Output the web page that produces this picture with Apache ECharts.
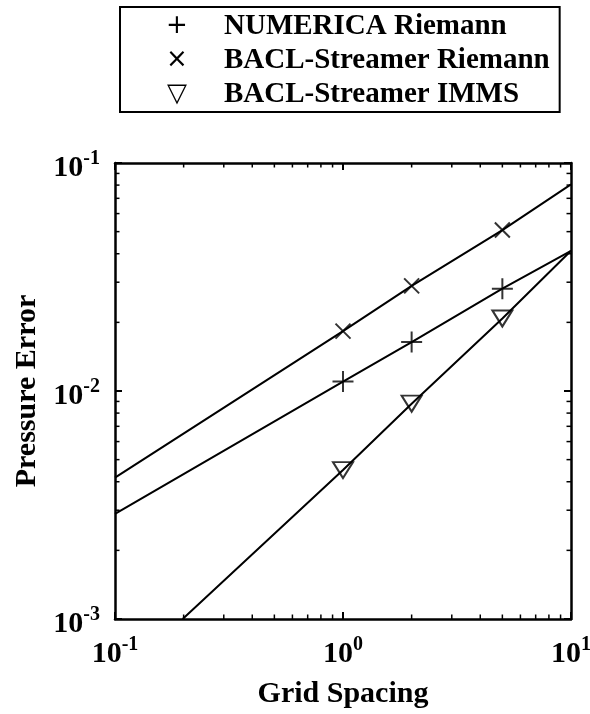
<!DOCTYPE html>
<html style="height: 100%">
<head>
	<meta charset="utf-8">
</head>
<body style="height: 100%; margin: 0; background: #fff">
	<div id="container" style="width: 590px; height: 714px;"></div>
	<script type="text/javascript" src="https://cdn.jsdelivr.net/npm/echarts@6.0.0/dist/echarts.min.js"></script>
	<script type="text/javascript">
		// measured points
		let gridSpacing = [1, 2, 5];
		let numericaRiemann = [0.0110, 0.0164, 0.0281];
		let baclRiemann = [0.0183, 0.0289, 0.0508];
		let baclImms = [0.00450, 0.00880, 0.0208];

		// fit lines, ends read where they leave the box
		let numericaFitX = [0.1, 1, 2, 5, 10];
		let numericaFitY = [0.00289, 0.0110, 0.0164, 0.0281, 0.0412];
		let baclRiemannFitX = [0.1, 1, 2, 5, 10];
		let baclRiemannFitY = [0.00417, 0.0183, 0.0289, 0.0508, 0.0806];
		let baclImmsFitX = [0.198, 1, 2, 5, 10];
		let baclImmsFitY = [0.001, 0.0045, 0.0088, 0.0208, 0.0412];

		let legendNames = ['NUMERICA Riemann', 'BACL-Streamer Riemann', 'BACL-Streamer IMMS'];
		let legendGlyphs = ['+', '\u00d7', '\u25bd'];

		let xMin = 0.1, xMax = 10, yMin = 0.001, yMax = 0.1;
		let xMinorTicks = [0.2, 0.3, 0.4, 0.5, 0.6, 0.7, 0.8, 0.9, 2, 3, 4, 5, 6, 7, 8, 9];
		let yMinorTicks = [0.002, 0.003, 0.004, 0.005, 0.006, 0.007, 0.008, 0.009,
			0.02, 0.03, 0.04, 0.05, 0.06, 0.07, 0.08, 0.09];

		let serif = 'Liberation Serif';
		let dom = document.getElementById("container");
		let myChart = echarts.init(dom, null, { renderer: 'canvas' });

		function zip(xs, ys) {
			let out = [];
			for (let i = 0; i < xs.length; i++) out.push([xs[i], ys[i]]);
			return out;
		}

		function powerLabel(value) {
			let exp = Math.round(Math.log10(value));
			return '{b|10}{s|' + exp + '}';
		}

		let labelRich = {
			b: { fontFamily: serif, fontWeight: 'bold', fontSize: 30, lineHeight: 40, verticalAlign: 'bottom', color: '#000' },
			s: { fontFamily: serif, fontWeight: 'bold', fontSize: 20, lineHeight: 20, verticalAlign: 'top', padding: [6, 0, 0, 0], color: '#000' }
		};

		let axisLine = { show: true, lineStyle: { color: '#000', width: 2.5 } };
		let majorTick = { show: true, inside: true, length: 7, lineStyle: { color: '#000', width: 2 } };

		// log axes only give decade ticks, so draw the 2..9 ones here
		function minorTicks(isX) {
			return function (params, api) {
				let v = api.value(isX ? 0 : 1);
				let a = isX ? api.coord([v, yMin]) : api.coord([xMin, v]);
				let b = isX ? api.coord([v, yMax]) : api.coord([xMax, v]);
				let len = 4.5;
				let st = { stroke: '#000', lineWidth: 1.5 };
				if (isX) {
					return { type: 'group', children: [
						{ type: 'line', shape: { x1: a[0], y1: a[1], x2: a[0], y2: a[1] - len }, style: st },
						{ type: 'line', shape: { x1: b[0], y1: b[1], x2: b[0], y2: b[1] + len }, style: st }
					] };
				}
				return { type: 'group', children: [
					{ type: 'line', shape: { x1: a[0], y1: a[1], x2: a[0] + len, y2: a[1] }, style: st },
					{ type: 'line', shape: { x1: b[0], y1: b[1], x2: b[0] - len, y2: b[1] }, style: st }
				] };
			};
		}

		let fitLine = { color: '#000', width: 2 };
		let markStroke = { color: 'rgba(0,0,0,0)', borderColor: '#000', borderWidth: 2 };

		let option = {
			animation: false,
			backgroundColor: '#fff',
			grid: { left: 115, top: 163, width: 456, height: 456, containLabel: false, outerBoundsMode: 'none' },
			legend: {
				data: legendNames,
				orient: 'vertical',
				left: 120,
				top: 7,
				icon: 'none',
				itemWidth: 1,
				itemHeight: 1,
				itemGap: 5,
				padding: [5, 10, 3, 4],
				borderColor: '#000',
				borderWidth: 2,
				selectedMode: false,
				formatter: function (name) {
					return '{m|' + legendGlyphs[legendNames.indexOf(name)] + '}{t|' + name + '}';
				},
				textStyle: {
					rich: {
						m: { fontFamily: 'DejaVu Sans', fontSize: 26, width: 94, align: 'center', lineHeight: 34, color: '#000' },
						t: { fontFamily: serif, fontWeight: 'bold', fontSize: 29, lineHeight: 34, color: '#000' }
					}
				}
			},
			xAxis: [
				{
					type: 'log', logBase: 10, min: xMin, max: xMax,
					name: 'Grid Spacing', nameLocation: 'middle', nameGap: 60,
					nameTextStyle: { fontFamily: serif, fontWeight: 'bold', fontSize: 30, color: '#000' },
					axisLine: axisLine, axisTick: majorTick,
					axisLabel: { margin: 10, formatter: powerLabel, rich: labelRich },
					splitLine: { show: false }
				},
				{
					type: 'log', logBase: 10, min: xMin, max: xMax, position: 'top',
					axisLine: axisLine, axisTick: majorTick,
					axisLabel: { show: false }, splitLine: { show: false }
				}
			],
			yAxis: [
				{
					type: 'log', logBase: 10, min: yMin, max: yMax,
					name: 'Pressure Error', nameLocation: 'middle', nameGap: 70,
					nameTextStyle: { fontFamily: serif, fontWeight: 'bold', fontSize: 30, color: '#000' },
					axisLine: axisLine, axisTick: majorTick,
					axisLabel: { margin: 15, formatter: powerLabel, rich: labelRich },
					splitLine: { show: false }
				},
				{
					type: 'log', logBase: 10, min: yMin, max: yMax, position: 'right',
					axisLine: axisLine, axisTick: majorTick,
					axisLabel: { show: false }, splitLine: { show: false }
				}
			],
			series: [
				{ type: 'line', name: 'fit1', data: zip(numericaFitX, numericaFitY), symbol: 'none', lineStyle: fitLine, silent: true },
				{ type: 'line', name: 'fit2', data: zip(baclRiemannFitX, baclRiemannFitY), symbol: 'none', lineStyle: fitLine, silent: true },
				{ type: 'line', name: 'fit3', data: zip(baclImmsFitX, baclImmsFitY), symbol: 'none', lineStyle: fitLine, silent: true },
				{
					type: 'scatter', name: legendNames[0], data: zip(gridSpacing, numericaRiemann),
					symbol: 'path://M0,10 L20,10 M10,0 L10,20', symbolSize: 21, itemStyle: markStroke
				},
				{
					type: 'scatter', name: legendNames[1], data: zip(gridSpacing, baclRiemann),
					symbol: 'path://M0,0 L20,20 M0,20 L20,0', symbolSize: 15, itemStyle: markStroke
				},
				{
					type: 'scatter', name: legendNames[2], data: zip(gridSpacing, baclImms),
					symbol: 'triangle', symbolRotate: 180, symbolSize: [20, 16],
					itemStyle: { color: '#fff', borderColor: '#000', borderWidth: 2 }
				},
				{
					type: 'custom', renderItem: minorTicks(true), silent: true, clip: false,
					data: xMinorTicks.map(function (v) { return [v, yMin]; })
				},
				{
					type: 'custom', renderItem: minorTicks(false), silent: true, clip: false,
					data: yMinorTicks.map(function (v) { return [xMin, v]; })
				}
			]
		};

		myChart.setOption(option);
	</script>
</body>
</html>
